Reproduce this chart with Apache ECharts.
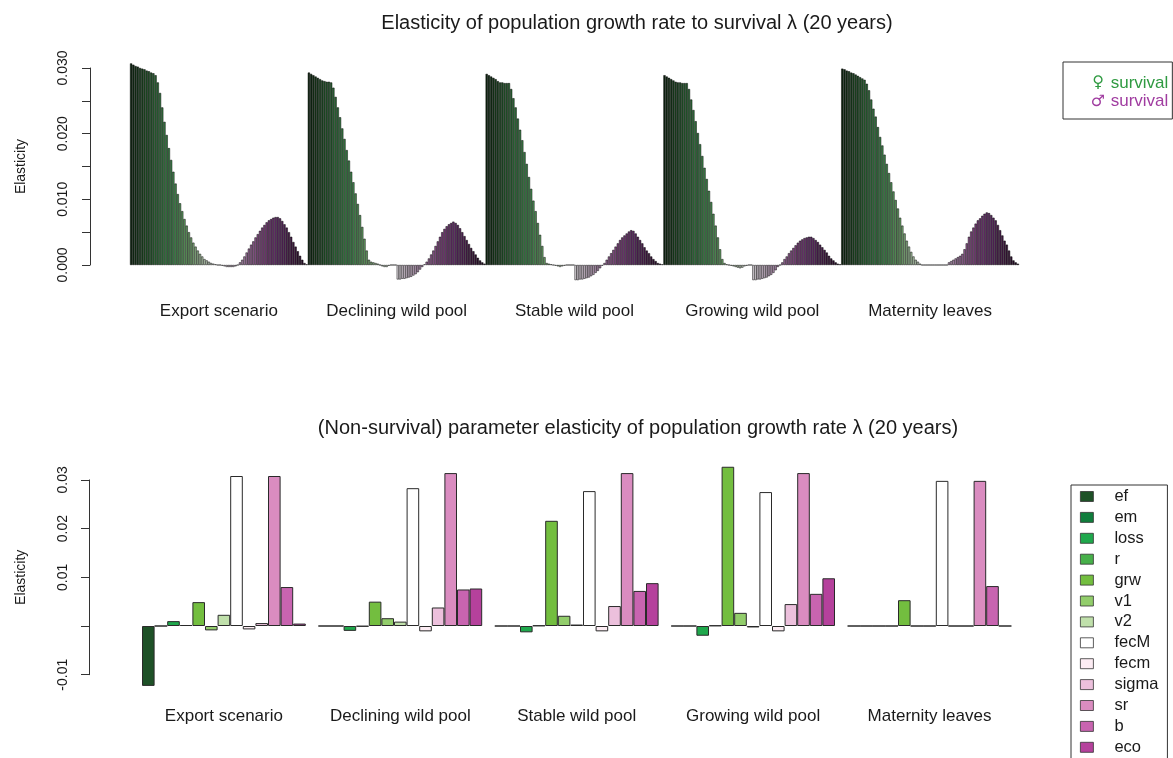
<!DOCTYPE html>
<html><head><meta charset="utf-8">
<script src="https://cdn.jsdelivr.net/npm/echarts@6/dist/echarts.min.js"></script>
<style>html,body{margin:0;padding:0;background:#fff}#c{width:1173px;height:758px}</style>
</head><body><div id="c"></div>
<script>
// ---------------- DATA ----------------
const scenarios = ['Export scenario','Declining wild pool','Stable wild pool','Growing wild pool','Maternity leaves'];

// Female survival elasticities by age class (40 classes per scenario)
const femaleExport = [0.0307,0.0305,0.0303,0.0302,0.0300,0.0299,0.0298,0.0296,0.0295,0.0293,0.0292,0.0289,0.0278,0.0262,0.0240,0.0218,0.0198,0.0178,0.0160,0.0142,0.0124,0.0108,0.0094,0.0082,0.0070,0.0060,0.0050,0.0042,0.0034,0.0028,0.0022,0.0017,0.0013,0.0009,0.0007,0.0005,0.0003,0.0002,0.0001,0.0000];
const femaleDeclining = [0.0293,0.0291,0.0289,0.0287,0.0285,0.0283,0.0281,0.0280,0.0279,0.0279,0.0278,0.0270,0.0256,0.0240,0.0225,0.0208,0.0192,0.0175,0.0159,0.0142,0.0126,0.0109,0.0093,0.0076,0.0058,0.0040,0.0022,0.0008,0.0005,0.0004,0.0003,0.0002,0.0000,-0.0002,-0.0003,-0.0003,-0.0001,0.0000,0.0000,0.0000];
const femaleStable = [0.0291,0.0289,0.0287,0.0285,0.0283,0.0280,0.0278,0.0278,0.0277,0.0277,0.0277,0.0268,0.0254,0.0240,0.0223,0.0206,0.0190,0.0172,0.0154,0.0134,0.0116,0.0098,0.0082,0.0064,0.0046,0.0029,0.0012,0.0003,0.0002,0.0001,0.0000,-0.0001,-0.0002,-0.0003,-0.0002,-0.0001,0.0000,0.0000,0.0000,0.0000];
const femaleGrowing = [0.0289,0.0287,0.0285,0.0283,0.0281,0.0279,0.0278,0.0278,0.0277,0.0277,0.0277,0.0268,0.0252,0.0236,0.0219,0.0201,0.0184,0.0166,0.0148,0.0131,0.0113,0.0096,0.0078,0.0060,0.0042,0.0024,0.0009,0.0003,0.0001,0.0000,-0.0001,-0.0002,-0.0003,-0.0004,-0.0005,-0.0004,-0.0002,-0.0001,0.0000,0.0000];
const femaleMaternity = [0.0299,0.0298,0.0296,0.0295,0.0293,0.0292,0.0290,0.0288,0.0286,0.0284,0.0282,0.0276,0.0266,0.0252,0.0238,0.0226,0.0210,0.0195,0.0182,0.0168,0.0154,0.0140,0.0126,0.0112,0.0099,0.0086,0.0072,0.0060,0.0048,0.0037,0.0028,0.0020,0.0013,0.0008,0.0005,0.0002,0.0000,0.0000,0.0000,0.0000];

// Male survival elasticities by age class (40 classes per scenario)
const maleExport = [0.0000,-0.0001,-0.0002,-0.0003,-0.0003,-0.0003,-0.0003,-0.0002,0.0000,0.0004,0.0008,0.0013,0.0019,0.0025,0.0031,0.0036,0.0042,0.0047,0.0052,0.0057,0.0061,0.0065,0.0068,0.0070,0.0072,0.0073,0.0073,0.0071,0.0067,0.0062,0.0057,0.0050,0.0043,0.0035,0.0028,0.0021,0.0014,0.0008,0.0003,0.0001];
const maleDeclining = [-0.0022,-0.0022,-0.0021,-0.0021,-0.0020,-0.0019,-0.0018,-0.0016,-0.0014,-0.0011,-0.0007,-0.0003,0.0001,0.0005,0.0010,0.0016,0.0022,0.0029,0.0036,0.0043,0.0050,0.0055,0.0059,0.0062,0.0064,0.0066,0.0064,0.0061,0.0056,0.0050,0.0044,0.0038,0.0032,0.0026,0.0021,0.0016,0.0011,0.0007,0.0004,0.0002];
const maleStable = [-0.0023,-0.0023,-0.0022,-0.0022,-0.0021,-0.0020,-0.0019,-0.0017,-0.0015,-0.0012,-0.0009,-0.0005,-0.0001,0.0003,0.0008,0.0013,0.0018,0.0023,0.0028,0.0033,0.0038,0.0042,0.0045,0.0048,0.0051,0.0053,0.0052,0.0048,0.0043,0.0038,0.0033,0.0027,0.0022,0.0018,0.0013,0.0009,0.0006,0.0003,0.0002,0.0001];
const maleGrowing = [-0.0023,-0.0023,-0.0022,-0.0022,-0.0021,-0.0020,-0.0019,-0.0017,-0.0015,-0.0012,-0.0008,-0.0003,0.0000,0.0004,0.0009,0.0013,0.0018,0.0022,0.0026,0.0030,0.0034,0.0037,0.0039,0.0041,0.0042,0.0043,0.0043,0.0041,0.0038,0.0035,0.0031,0.0027,0.0023,0.0019,0.0014,0.0010,0.0007,0.0004,0.0002,0.0001];
const maleMaternity = [0.0000,0.0000,0.0000,0.0000,0.0000,0.0000,0.0000,0.0000,0.0004,0.0006,0.0008,0.0010,0.0012,0.0014,0.0017,0.0024,0.0033,0.0043,0.0051,0.0057,0.0063,0.0068,0.0071,0.0075,0.0078,0.0080,0.0079,0.0076,0.0072,0.0068,0.0061,0.0053,0.0045,0.0037,0.0031,0.0022,0.0013,0.0007,0.0004,0.0002];

// Non-survival parameter elasticities (one value per scenario)
const paramNames = ['ef','em','loss','r','grw','v1','v2','fecM','fecm','sigma','sr','b','eco'];
const efVals    = [-0.0123, 0, 0, 0, 0];
const emVals    = [0, 0, 0, 0, 0];
const lossVals  = [0.0010, -0.0010, -0.0013, -0.0020, 0];
const rVals     = [0.0002, -0.0001, 0.0001, 0.0001, 0];
const grwVals   = [0.0049, 0.0050, 0.0216, 0.0327, 0.0053];
const v1Vals    = [-0.0009, 0.0016, 0.0021, 0.0027, 0];
const v2Vals    = [0.0023, 0.0009, 0.0003, -0.0003, 0];
const fecMVals  = [0.0308, 0.0283, 0.0277, 0.0275, 0.0298];
const fecmVals  = [-0.0007, -0.0011, -0.0011, -0.0011, 0];
const sigmaVals = [0.0006, 0.0038, 0.0041, 0.0045, 0];
const srVals    = [0.0308, 0.0314, 0.0314, 0.0314, 0.0298];
const bVals     = [0.0080, 0.0075, 0.0072, 0.0066, 0.0082];
const ecoVals   = [0.0005, 0.0077, 0.0088, 0.0098, 0];

const topTicks = [0, 0.01, 0.02, 0.03];
const bottomTicks = [-0.01, 0.01, 0.02, 0.03];

// ---------------- STYLE ----------------
const paramColors = ['#1e5127','#107d3c','#1fa84c','#47b04a','#73be3f','#92cd6b','#c0e0ab','#ffffff','#fcecf3','#ecc0dc','#da8cc0','#c864b0','#b5419c'];
const femaleStops = ['#0d240f','#1c4c23','#2e713a','#3f8a4c','#6aa266','#aec4a8','#d8d8d8'];
const maleStops = ['#ddd6dd','#bfa8bf','#9c6a9c','#7e3e7e','#62296a','#421742','#1c061c'];
const FONT = '"Liberation Sans", Arial, sans-serif';
const GREEN_TXT = '#2f9a41', PURPLE_TXT = '#a03ca0';

function hex2rgb(h){h=h.replace('#','');return [0,2,4].map(i=>parseInt(h.substr(i,2),16));}
function ramp(stops,t){
  const n=stops.length-1, p=Math.min(Math.max(t,0),1)*n, k=Math.min(Math.floor(p),n-1), f=p-k;
  const a=hex2rgb(stops[k]), b=hex2rgb(stops[k+1]);
  return 'rgb('+a.map((v,i)=>Math.round(v+(b[i]-v)*f)).join(',')+')';
}

const femaleSurvival = [femaleExport,femaleDeclining,femaleStable,femaleGrowing,femaleMaternity];
const maleSurvival = [maleExport,maleDeclining,maleStable,maleGrowing,maleMaternity];
const paramValues = [efVals,emVals,lossVals,rVals,grwVals,v1Vals,v2Vals,fecMVals,fecmVals,sigmaVals,srVals,bVals,ecoVals];

// ---------------- LAYOUT ----------------
const topC = {left:130, width:889, zeroY:265, px:6567, min:-0.0035, max:0.0315, axisX:90, aMin:0, aMax:0.03};
const botC = {left:135.7, width:882, zeroY:626, px:4870, min:-0.014, max:0.035, axisX:89, aMin:-0.01, aMax:0.03};
function gridOf(c){return {left:c.left, width:c.width, top:c.zeroY-c.max*c.px, height:(c.max-c.min)*c.px};}
function axisGridOf(c){return {left:c.axisX, width:1, top:c.zeroY-c.aMax*c.px, height:(c.aMax-c.aMin)*c.px};}

// ---------------- BUILD ----------------
const cats=[], fData=[], mData=[];
scenarios.forEach((s,g)=>{
  const f=femaleSurvival[g], m=maleSurvival[g];
  f.forEach((v,i)=>{cats.push(s+' F'+i); fData.push({value:v,itemStyle:{color:ramp(femaleStops,i/(f.length-1))}}); mData.push('-');});
  m.forEach((v,i)=>{cats.push(s+' M'+i); mData.push({value:v,itemStyle:{color:ramp(maleStops,i/(m.length-1))}}); fData.push('-');});
});

const labelStyle = {color:'#1a1a1a', fontFamily:FONT, fontSize:14};
const symStyle = (c)=>({fontFamily:'"DejaVu Sans"', fontSize:16, lineHeight:20, width:16, align:'center', color:c});

const option = {
  animation:false,
  backgroundColor:'#fff',
  title:[
    {text:'Elasticity of population growth rate to survival λ (20 years)', left:632, top:8, textAlign:'center',
     textStyle:{fontFamily:FONT, fontSize:20, fontWeight:'normal', color:'#1a1a1a'}},
    {text:'(Non-survival) parameter elasticity of population growth rate λ (20 years)', left:633, top:413, textAlign:'center',
     textStyle:{fontFamily:FONT, fontSize:20, fontWeight:'normal', color:'#1a1a1a'}}
  ],
  legend:[
    {data:['♀ survival','♂ survival'],
     orient:'vertical', left:1063, top:62, icon:'none', itemWidth:0, itemHeight:20, itemGap:0,
     padding:[11,4,9,22], borderColor:'#333', borderWidth:1, selectedMode:false,
     formatter:n=>n.charAt(0)==='♀' ? '{fs|♀}{ft| survival}' : '{ms|♂}{mt| survival}',
     textStyle:{fontFamily:FONT, fontSize:17, rich:{
       fs:symStyle(GREEN_TXT),
       ft:{fontFamily:FONT, fontSize:17, lineHeight:20, color:GREEN_TXT},
       ms:symStyle(PURPLE_TXT),
       mt:{fontFamily:FONT, fontSize:17, lineHeight:20, color:PURPLE_TXT}}}},
    {data:paramNames, orient:'vertical', left:1071, top:485, height:300, itemWidth:13, itemHeight:10, itemGap:3.9,
     icon:'rect', padding:[3,9,16,9], borderColor:'#333', borderWidth:1, selectedMode:false,
     itemStyle:{borderColor:'#333', borderWidth:0.8},
     textStyle:{fontFamily:FONT, fontSize:16.5, color:'#1a1a1a', lineHeight:16.5, padding:[0,0,0,16]}}
  ],
  grid:[gridOf(topC), axisGridOf(topC), gridOf(botC), axisGridOf(botC)],
  xAxis:[
    {gridIndex:0, type:'category', data:cats, show:false},
    {gridIndex:0, type:'category', data:scenarios, position:'bottom', axisLine:{show:false}, axisTick:{show:false},
     axisLabel:{...labelStyle, fontSize:17, margin:15, interval:0}},
    {gridIndex:1, type:'value', show:false},
    {gridIndex:2, type:'category', data:scenarios, axisLine:{show:false}, axisTick:{show:false},
     axisLabel:{...labelStyle, fontSize:17, margin:14, interval:0}},
    {gridIndex:3, type:'value', show:false}
  ],
  yAxis:[
    {gridIndex:0, type:'value', min:topC.min, max:topC.max, show:false},
    {gridIndex:1, type:'value', min:topC.aMin, max:topC.aMax, interval:0.005, splitLine:{show:false},
     axisLine:{show:true, lineStyle:{color:'#333'}}, axisTick:{show:true, length:8, lineStyle:{color:'#333'}},
     axisLabel:{...labelStyle, rotate:90, margin:20,
       formatter:v=>topTicks.some(t=>Math.abs(t-v)<1e-9)?v.toFixed(3):''},
     name:'Elasticity', nameLocation:'middle', nameRotate:90, nameGap:62,
     nameTextStyle:{fontFamily:FONT, fontSize:14, color:'#1a1a1a'}},
    {gridIndex:2, type:'value', min:botC.min, max:botC.max, show:false},
    {gridIndex:3, type:'value', min:botC.aMin, max:botC.aMax, interval:0.01, splitLine:{show:false},
     axisLine:{show:true, lineStyle:{color:'#333'}}, axisTick:{show:true, length:8, lineStyle:{color:'#333'}},
     axisLabel:{...labelStyle, rotate:90, margin:19,
       formatter:v=>bottomTicks.some(t=>Math.abs(t-v)<1e-9)?v.toFixed(2):''},
     name:'Elasticity', nameLocation:'middle', nameRotate:90, nameGap:61,
     nameTextStyle:{fontFamily:FONT, fontSize:14, color:'#1a1a1a'}}
  ],
  series:[
    {name:'♀ survival', type:'bar', xAxisIndex:0, yAxisIndex:0, data:fData, barCategoryGap:'0%', barGap:'-100%',
     itemStyle:{borderColor:'#0a0a0a', borderWidth:0.5}, color:GREEN_TXT},
    {name:'♂ survival', type:'bar', xAxisIndex:0, yAxisIndex:0, data:mData, barCategoryGap:'0%', barGap:'-100%',
     itemStyle:{borderColor:'#0a0a0a', borderWidth:0.5}, color:PURPLE_TXT}
  ].concat(paramNames.map((p,k)=>({
     name:p, type:'bar', xAxisIndex:3, yAxisIndex:2, data:paramValues[k],
     barGap:'0%', barCategoryGap:(100/14)+'%',
     itemStyle:{color:paramColors[k], borderColor:'#2a2a2a', borderWidth:1}
  })))
};

const chart = echarts.init(document.getElementById('c'), null, {renderer:'canvas'});
chart.setOption(option);
</script></body></html>
